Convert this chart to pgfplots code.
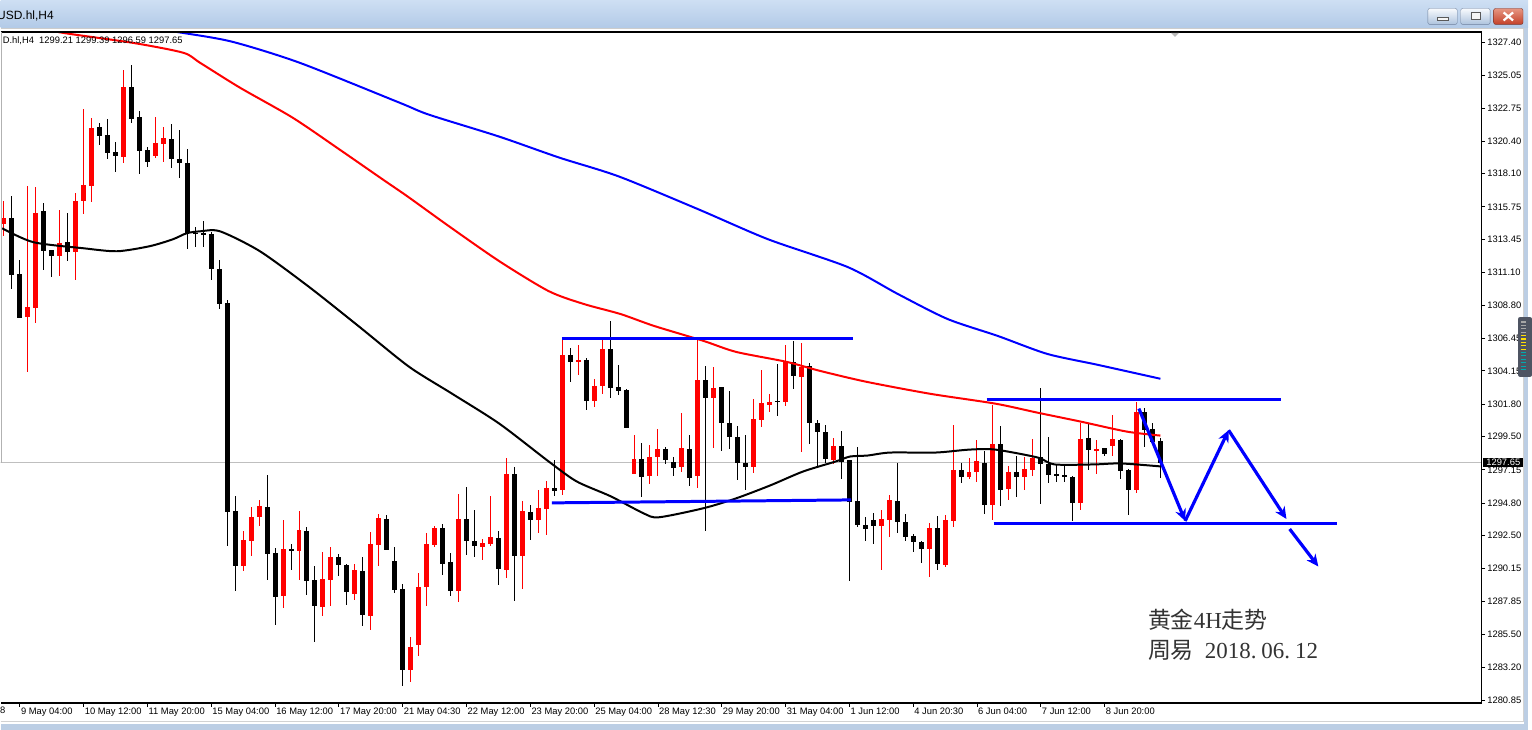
\documentclass[border=0pt]{standalone}
\usepackage{pgfplots}
\usepackage{pgfplotstable}
\usepackage{fontspec}
\pgfplotsset{compat=1.18}
\usetikzlibrary{arrows.meta}
\setmainfont{Liberation Sans}
\newfontfamily\cjk{Noto Sans CJK SC}
\newfontfamily\serifL{Liberation Serif}

\definecolor{mtblue}{RGB}{0,0,255}
\definecolor{mtred}{RGB}{255,0,0}
\definecolor{barTop}{RGB}{206,223,243}
\definecolor{barBot}{RGB}{178,202,231}
\definecolor{edge}{RGB}{188,206,228}

% H4 candles, index / open / high / low / close
\pgfplotstableread{
i o h l c
0 1314.52 1316.21 1313.67 1314.94
3 1307.96 1317.20 1304.08 1308.67
4 1308.60 1317.20 1307.54 1315.36
7 1312.26 1315.57 1310.85 1313.18
9 1312.54 1316.77 1310.57 1316.21
10 1316.14 1322.70 1315.22 1317.27
11 1317.27 1322.06 1316.07 1321.36
15 1319.31 1325.44 1318.82 1324.25
19 1319.38 1322.13 1319.24 1320.30
20 1320.23 1321.43 1318.89 1320.65
30 1290.34 1292.87 1289.98 1292.17
31 1292.10 1294.50 1291.04 1293.79
32 1293.79 1295.00 1293.16 1294.57
35 1288.22 1293.58 1287.37 1291.54
37 1291.39 1294.21 1289.35 1292.87
40 1287.45 1291.32 1286.81 1289.42
41 1289.35 1291.68 1287.52 1290.97
44 1288.36 1290.48 1287.94 1290.05
46 1286.81 1292.73 1285.82 1291.89
47 1291.82 1294.00 1290.34 1293.72
51 1283.00 1285.33 1282.16 1284.63
52 1284.77 1289.84 1284.00 1288.85
53 1288.85 1292.66 1287.52 1291.89
54 1291.82 1293.16 1291.68 1293.02
57 1288.57 1295.41 1287.80 1293.65
60 1291.68 1292.24 1290.76 1291.96
61 1291.89 1295.34 1291.75 1292.38
63 1290.05 1297.95 1289.49 1296.89
65 1291.04 1294.92 1288.71 1294.21
67 1293.58 1295.77 1292.66 1294.43
68 1294.35 1296.40 1292.52 1295.84
70 1295.70 1306.41 1295.34 1305.28
72 1304.79 1305.99 1303.87 1304.93
74 1302.04 1303.59 1301.62 1303.10
75 1303.10 1306.41 1302.53 1305.71
79 1296.89 1299.64 1296.89 1297.95
81 1296.75 1298.94 1296.12 1298.09
82 1298.09 1300.06 1296.68 1298.66
85 1297.32 1301.20 1297.03 1298.66
87 1296.68 1306.34 1295.84 1303.52
89 1302.25 1304.44 1298.73 1302.96
94 1297.32 1302.18 1296.96 1300.77
95 1300.70 1304.22 1300.21 1301.90
96 1301.76 1302.53 1301.27 1301.97
98 1301.97 1305.99 1301.69 1304.86
100 1303.73 1306.13 1298.45 1304.44
104 1297.88 1299.43 1297.60 1298.87
110 1293.16 1294.35 1290.05 1293.65
111 1293.58 1295.41 1292.38 1294.99
116 1291.54 1293.37 1289.56 1293.02
118 1290.41 1293.93 1290.27 1293.58
119 1293.51 1300.35 1293.09 1297.18
121 1296.68 1298.02 1296.54 1297.03
122 1296.96 1299.29 1296.33 1297.74
124 1294.64 1301.76 1293.58 1299.01
126 1295.77 1297.39 1294.99 1297.03
128 1296.68 1298.02 1295.70 1297.25
129 1297.11 1299.36 1296.68 1298.02
135 1294.78 1300.49 1294.35 1299.36
137 1298.52 1299.29 1296.89 1298.66
139 1298.87 1301.05 1298.16 1299.36
142 1295.70 1301.97 1295.48 1301.27
}\upcandles

\pgfplotstableread{
i o h l c
1 1314.94 1316.56 1309.93 1310.92
2 1310.99 1311.98 1307.89 1307.89
5 1315.50 1316.00 1311.27 1312.61
6 1312.68 1312.68 1310.78 1312.26
8 1313.25 1315.29 1311.91 1312.54
12 1321.43 1321.71 1320.16 1320.79
13 1320.86 1321.99 1319.17 1319.59
14 1319.66 1320.37 1318.25 1319.38
16 1324.25 1325.80 1321.71 1321.99
17 1322.13 1322.56 1318.04 1319.73
18 1319.80 1320.02 1318.61 1318.96
21 1320.58 1321.64 1318.47 1319.17
22 1319.17 1321.22 1317.76 1318.89
23 1318.89 1319.88 1312.75 1313.95
24 1313.95 1314.31 1312.89 1313.88
25 1313.88 1314.73 1312.89 1313.81
26 1313.81 1313.95 1310.57 1311.34
27 1311.34 1311.98 1308.53 1308.88
28 1308.95 1309.16 1291.75 1294.14
29 1294.21 1295.27 1288.57 1290.34
33 1294.50 1296.75 1289.35 1291.18
34 1291.25 1291.61 1286.18 1288.15
36 1291.54 1291.89 1290.05 1291.39
38 1292.87 1293.09 1288.29 1289.28
39 1289.35 1290.34 1284.98 1287.52
42 1290.97 1291.18 1289.63 1290.41
43 1290.41 1290.48 1287.59 1288.50
45 1289.98 1290.97 1286.11 1286.88
48 1293.65 1293.93 1291.46 1291.46
49 1290.69 1291.68 1288.43 1288.64
50 1288.71 1289.07 1281.88 1283.00
55 1293.02 1293.30 1289.70 1290.48
56 1290.62 1291.25 1288.22 1288.57
58 1293.65 1295.91 1291.11 1292.10
59 1292.10 1294.35 1290.97 1291.75
62 1292.31 1292.80 1288.99 1290.12
64 1296.89 1297.32 1287.87 1291.04
66 1294.21 1294.64 1292.17 1293.58
69 1295.91 1297.81 1295.27 1295.70
71 1305.28 1305.78 1303.38 1304.79
73 1304.93 1305.07 1301.41 1302.04
76 1305.71 1307.68 1302.25 1302.96
77 1303.03 1304.58 1302.46 1302.74
78 1302.81 1302.88 1300.13 1300.13
80 1297.95 1299.08 1295.27 1296.68
83 1298.66 1298.80 1297.60 1297.88
84 1297.74 1298.09 1296.75 1297.32
86 1298.66 1299.64 1295.98 1296.61
88 1303.52 1304.51 1292.80 1302.25
90 1303.03 1303.03 1298.45 1300.49
91 1300.49 1302.74 1298.66 1299.50
92 1299.50 1300.28 1296.40 1297.67
93 1297.67 1299.64 1295.70 1297.32
97 1302.04 1304.65 1300.98 1301.97
99 1304.79 1306.27 1302.88 1303.80
101 1304.51 1304.72 1299.01 1300.49
102 1300.49 1300.70 1297.32 1299.85
103 1299.85 1300.35 1297.67 1297.95
105 1298.87 1299.92 1296.47 1297.74
106 1297.81 1297.81 1289.28 1294.85
107 1294.92 1298.80 1293.09 1293.23
108 1293.23 1293.79 1292.10 1292.95
109 1293.58 1294.07 1291.89 1293.16
112 1294.99 1297.67 1292.66 1293.44
113 1293.44 1294.00 1292.10 1292.38
114 1292.45 1292.59 1291.32 1292.03
115 1292.03 1292.10 1290.55 1291.54
117 1293.02 1293.86 1290.05 1290.48
120 1297.18 1297.67 1296.26 1296.68
123 1297.67 1298.52 1294.00 1294.64
125 1299.01 1300.28 1294.57 1295.70
127 1297.03 1298.16 1295.27 1296.68
130 1298.02 1302.96 1294.71 1297.53
131 1297.60 1299.50 1296.19 1296.82
132 1296.89 1297.53 1296.26 1296.75
133 1296.75 1297.53 1296.26 1296.61
134 1296.68 1296.75 1293.51 1294.78
136 1299.43 1300.49 1297.11 1298.52
138 1298.66 1298.73 1298.16 1298.30
140 1299.29 1299.36 1296.47 1297.11
141 1297.18 1297.25 1293.93 1295.70
143 1301.27 1301.55 1298.80 1299.99
144 1300.06 1300.49 1299.01 1299.15
145 1299.21 1299.39 1296.59 1297.65
}\dncandles

\pgfplotsset{
  wick/.style={draw=none, mark=none, forget plot,
    error bars/.cd, y dir=both, y explicit, error mark=none,
    error bar style={draw=#1, line width=1pt}},
  body/.style={draw=none, mark=none, forget plot,
    error bars/.cd, y dir=both, y explicit, error mark=none,
    error bar style={draw=#1, line width=5pt}},
  ma/.style={#1, line width=2pt, line join=round, smooth, tension=0.45},
}

\begin{document}
\begin{tikzpicture}
% window chrome, pixel units
\begin{scope}[x=1pt,y=-1pt]
  \useasboundingbox (0,0) rectangle (1532,732);
  \fill[white] (0,0) rectangle (1532,732);
  \shade[top color=barTop, bottom color=barBot] (0,0) rectangle (1532,28);
  \draw[gray!40] (0,28.5) -- (1532,28.5);
  \node[anchor=east, inner sep=0pt, font=\fontsize{12}{13}\selectfont] at (53.5,16) {USD.hl,H4};
  % buttons
  \foreach \a/\b in {1431.5/1461, 1464.5/1494}{
    \shade[top color=white!85!barTop, bottom color=barBot!90!gray, rounded corners=2pt]
      (\a,8.5) rectangle (\b,24.5);
    \draw[rounded corners=2pt, draw={rgb,255:red,110;green,128;blue,156}] (\a,8.5) rectangle (\b,24.5);
  }
  \shade[top color={rgb,255:red,230;green,150;blue,130}, bottom color={rgb,255:red,196;green,64;blue,40}, rounded corners=2pt]
    (1497.5,8.5) rectangle (1527,24.5);
  \draw[rounded corners=2pt, draw={rgb,255:red,120;green,50;blue,40}] (1497.5,8.5) rectangle (1527,24.5);
  \draw[fill=white!92!gray, draw=gray!70!black] (1440.5,17) rectangle (1452,20.5);
  \draw[fill=white!92!gray, draw=gray!70!black, line width=1.2pt] (1475,12.5) rectangle (1484,19.5);
  \draw[white, line width=2.2pt] (1507.5,12.5) -- (1517,20.5) (1507.5,20.5) -- (1517,12.5);
  % right and bottom borders
  \fill[edge] (1528,28) rectangle (1532,732);
  \fill[edge] (0,726) rectangle (1532,732);
  \draw[gray!35] (0,723.5) -- (1528,723.5);
  \draw[gray!35] (1527.5,29) -- (1527.5,724);
\end{scope}

\begin{axis}[
  at={(0pt,-32pt)}, anchor=north west,
  width=1485pt, height=673pt, scale only axis,
  xmin=-0.4125, xmax=185.2125, ymin=1280.66, ymax=1328.126,
  axis line style={draw=none},
  tick align=outside, major tick length=4pt,
  tick style={draw=black, line width=0.8pt},
  xtick pos=bottom, ytick pos=right, yticklabel pos=right,
  xtick={2,10,...,138},
  xticklabels={9 May 04:00,10 May 12:00,11 May 20:00,15 May 04:00,16 May 12:00,17 May 20:00,21 May 04:30,22 May 12:00,23 May 20:00,25 May 04:00,28 May 12:30,29 May 20:00,31 May 04:00,1 Jun 12:00,4 Jun 20:30,6 Jun 04:00,7 Jun 12:00,8 Jun 20:00},
  ytick={1327.40,1325.05,1322.75,1320.40,1318.10,1315.75,1313.45,1311.10,1308.80,1306.45,1304.15,1301.80,1299.50,1297.15,1294.80,1292.50,1290.15,1287.85,1285.50,1283.20,1280.85},
  yticklabels={1327.40,1325.05,1322.75,1320.40,1318.10,1315.75,1313.45,1311.10,1308.80,1306.45,1304.15,1301.80,1299.50,1297.15,1294.80,1292.50,1290.15,1287.85,1285.50,1283.20,1280.85},
  ticklabel style={font=\fontsize{9.4}{10}\selectfont},
  xticklabel style={anchor=north west, inner sep=0pt, xshift=1pt, yshift=-1pt},
  yticklabel style={anchor=west, inner sep=0pt, xshift=2pt},
]
% current price line
\draw[gray!50, line width=1pt] (axis cs:-1,1297.65) -- (axis cs:186,1297.65);

% candles
\addplot[wick=mtred] table[x=i, y expr={(\thisrow{h}+\thisrow{l})/2}, y error expr={(\thisrow{h}-\thisrow{l})/2}] {\upcandles};
\addplot[wick=black] table[x=i, y expr={(\thisrow{h}+\thisrow{l})/2}, y error expr={(\thisrow{h}-\thisrow{l})/2}] {\dncandles};
\addplot[body=mtred] table[x=i, y expr={(\thisrow{o}+\thisrow{c})/2}, y error expr={max(abs(\thisrow{o}-\thisrow{c})/2,0.036)}] {\upcandles};
\addplot[body=black] table[x=i, y expr={(\thisrow{o}+\thisrow{c})/2}, y error expr={max(abs(\thisrow{o}-\thisrow{c})/2,0.036)}] {\dncandles};

% moving averages
\addplot[ma=mtblue] coordinates {
 (14.6,1328.69) (22.5,1328.05) (28.7,1327.42) (37.1,1325.94) (49.6,1323.12) (53.3,1322.27)
 (62.1,1320.72) (69.6,1319.24) (77.1,1317.90) (87.1,1315.57) (95.8,1313.46) (105.8,1311.49)
 (112.1,1309.58) (118.3,1307.82) (124.6,1306.62) (130.8,1305.35) (137.1,1304.58) (145,1303.59)};
\addplot[ma=mtred] coordinates {
 (4.6,1328.41) (7.5,1328.05) (16.2,1327.35) (22.5,1326.65) (24.6,1325.94) (29.6,1324.18)
 (36.2,1322.06) (42.1,1319.80) (47.5,1317.69) (50.6,1316.49) (55.8,1314.38) (62.1,1311.91)
 (68.3,1309.79) (72.7,1308.88) (77.3,1308.17) (81.5,1307.33) (87.7,1306.27) (91.8,1305.49)
 (98.1,1304.79) (102.3,1304.15) (108.1,1303.38) (116.1,1302.53) (124.3,1301.83) (129.6,1301.19)
 (135.0,1300.56) (140.8,1299.85) (145,1299.57)};
\addplot[ma=black] coordinates {
 (-0.2,1314.23) (3.7,1313.25) (10.0,1312.82) (14.2,1312.61) (18.3,1312.97) (21.2,1313.46)
 (22.9,1313.88) (24.6,1314.02) (27.1,1314.02) (32.1,1312.61) (38.3,1310.07) (44.6,1307.25)
 (50.8,1304.44) (56.2,1302.53) (62.1,1300.42) (68.3,1297.74) (71.8,1296.33) (76.1,1295.27)
 (80.2,1294.07) (82.1,1293.79) (87.7,1294.43) (91.8,1295.13) (96.1,1296.05) (100.2,1297.03)
 (104.3,1297.74) (106.1,1298.09) (108.3,1298.16) (111.1,1298.37) (116.8,1298.37) (121.1,1298.58)
 (124.3,1298.58) (129.6,1298.02) (131.7,1297.53) (136.7,1297.53) (140.0,1297.60) (145,1297.39)};

% range lines and projected path
\draw[mtblue, line width=3pt] (axis cs:69.96,1306.41) -- (axis cs:106.46,1306.41);
\draw[mtblue, line width=3pt] (axis cs:68.7,1294.81) -- (axis cs:106.2,1295.02);
\draw[mtblue, line width=3pt] (axis cs:123.2,1302.11) -- (axis cs:160.1,1302.11);
\draw[mtblue, line width=3pt] (axis cs:124.1,1293.37) -- (axis cs:167.1,1293.37);
\begin{scope}[mtblue, line width=3.2pt, -{Stealth[length=12pt,width=11pt]}]
\draw (axis cs:142.3,1301.48) -- (axis cs:148.1,1293.53);
\draw (axis cs:148.1,1293.53) -- (axis cs:153.55,1299.95);
\draw (axis cs:153.55,1299.95) -- (axis cs:160.8,1293.67);
\draw (axis cs:161.2,1292.96) -- (axis cs:164.8,1290.31);
\end{scope}
\end{axis}

\begin{scope}[x=1pt,y=-1pt]
  % frame
  \draw[black, line width=1.2pt] (0,32) -- (1485.5,32) -- (1485.5,705) -- (0,705);
  \draw[gray!60, line width=1pt] (0.6,32) -- (0.6,464);
  \fill[gray!55] (1174,33) -- (1182,33) -- (1178,37) -- cycle;
  \node[anchor=west, inner sep=0pt, font=\fontsize{9.4}{10}\selectfont] at (2,40.5)
    {D.hl,H4\ \ 1299.21 1299.39 1296.59 1297.65};
  \node[anchor=north east, inner sep=0pt, font=\fontsize{9.4}{10}\selectfont] at (5,709) {8};
  \node[anchor=west, fill=black, text=white, inner xsep=3pt, inner ysep=1.5pt,
        font=\fontsize{9.4}{10}\selectfont] at (1487,463.8) {1297.65};
  % one-click widget
  \fill[rounded corners=2pt, fill={rgb,255:red,78;green,84;blue,98}] (1522,318) rectangle (1536,378);
  \foreach \k in {0,...,14}{
    \pgfmathsetmacro\yy{323+3.4*\k}
    \ifnum\k<4 \def\cc{gray!70}\else\ifnum\k<9 \def\cc{yellow!80!orange}\else\def\cc{cyan!60!green}\fi\fi
    \draw[\cc, line width=1.1pt] (1525,\yy) -- (1530,\yy);
  }
  % caption
  \node[anchor=base west, inner sep=0pt, text=black!80] at (1150.7,630)
    {\cjk\fontsize{23}{23}\selectfont 黄金{\serifL 4H}走势};
  \node[anchor=base west, inner sep=0pt, text=black!80] at (1150.7,660)
    {\cjk\fontsize{23}{23}\selectfont 周易\hspace{11pt}{\serifL 2018.\kern5pt06.\kern5pt12}};
\end{scope}
\end{tikzpicture}
\end{document}
